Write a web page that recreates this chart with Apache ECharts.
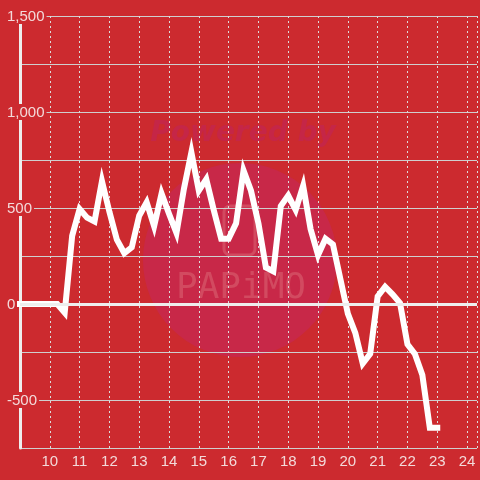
<!DOCTYPE html>
<html>
<head>
<meta charset="utf-8">
<script src="https://cdn.jsdelivr.net/npm/echarts@6/dist/echarts.min.js"></script>
<style>html,body{margin:0;padding:0;background:#cc2a2f;}#c{width:480px;height:480px;}</style>
</head>
<body>
<div id="c"></div>
<script>
var times = [9, 9.25, 9.5, 9.75, 10, 10.25, 10.5, 10.75, 11, 11.25, 11.5, 11.75,
  12, 12.25, 12.5, 12.75, 13, 13.25, 13.5, 13.75, 14, 14.25, 14.5, 14.75,
  15, 15.25, 15.5, 15.75, 16, 16.25, 16.5, 16.75, 17, 17.25, 17.5, 17.75,
  18, 18.25, 18.5, 18.75, 19, 19.25, 19.5, 19.75, 20, 20.25, 20.5, 20.75,
  21, 21.25, 21.5, 21.75, 22, 22.25, 22.5, 22.75, 23];
var values = [0, 0, 0, 0, 0, 0, -45, 355, 495, 450, 430, 640,
  480, 335, 265, 295, 460, 530, 405, 575, 470, 370, 600, 790,
  590, 650, 490, 340, 340, 420, 695, 590, 420, 190, 170, 510,
  565, 490, 615, 390, 255, 340, 310, 130, -50, -150, -310, -260,
  40, 90, 50, 5, -210, -260, -370, -645, -645];
var xTickLabels = [10, 11, 12, 13, 14, 15, 16, 17, 18, 19, 20, 21, 22, 23, 24];
var yTickLabels = [1500, 1000, 500, 0, -500];

var chart = echarts.init(document.getElementById('c'), null, {renderer: 'canvas'});
var fontFam = 'Liberation Sans, Arial, sans-serif';
function fmtNum(v) { return String(v).replace(/\B(?=(\d{3})+(?!\d))/g, ','); }

chart.setOption({
  backgroundColor: '#cc2a2f',
  animation: false,
  graphic: [
    {type: 'circle', z: -10, silent: true, shape: {cx: 240, cy: 260, r: 97},
     style: {fill: '#c82848'}},
    {type: 'text', z: -9, silent: true, x: 243, y: 134,
     style: {text: 'Powered by', fill: '#c52647', font: 'italic bold 28px "DejaVu Sans"',
             align: 'center', verticalAlign: 'middle'}},
    {type: 'rect', z: -9, silent: true, shape: {x: 224, y: 206, width: 31, height: 49, r: 6},
     style: {fill: 'none', stroke: '#d24a60', lineWidth: 3}},
    {type: 'text', z: -9, silent: true, x: 241, y: 289,
     style: {text: 'PAPiMO', fill: '#d24a60', font: '36px "DejaVu Sans Mono"',
             align: 'center', verticalAlign: 'middle'}}
  ],
  grid: {left: 20, right: 0, top: 16, bottom: 32, containLabel: false},
  xAxis: {
    type: 'value', min: 9, max: 24.3334, interval: 1,
    axisLine: {show: false}, axisTick: {show: false},
    splitLine: {show: true, lineStyle: {color: '#dcdcdc', type: [2, 3], width: 1}},
    axisLabel: {
      color: '#f3dada', fontSize: 15, fontFamily: fontFam, margin: 6,
      formatter: function (v) { return xTickLabels.indexOf(v) >= 0 ? String(v) : ''; }
    }
  },
  yAxis: {
    type: 'value', min: -750, max: 1500, interval: 250,
    axisLine: {show: true, lineStyle: {color: '#eeeeee', width: 3}},
    axisTick: {show: false},
    splitLine: {show: true, lineStyle: {color: '#cfcfcf', width: 1}},
    axisLabel: {
      align: 'left', margin: 13, fontSize: 15, fontFamily: fontFam, color: '#f3dada',
      formatter: function (v) {
        return yTickLabels.indexOf(v) >= 0 ? '{a|' + fmtNum(v) + '}' : '';
      },
      rich: {a: {color: '#f3dada', fontSize: 15, fontFamily: fontFam,
                 backgroundColor: '#cc2a2f', padding: [1, 2, 0, 0], lineHeight: 16}}
    }
  },
  series: [{
    type: 'line',
    data: times.map(function (t, i) { return [t, values[i]]; }),
    showSymbol: false, symbol: 'none',
    lineStyle: {color: '#ffffff', width: 6, cap: 'square', join: 'miter'},
    markLine: {
      silent: true, symbol: 'none', label: {show: false},
      lineStyle: {color: '#eeeeee', width: 3, type: 'solid'},
      data: [{yAxis: 0}]
    }
  }]
});
</script>
</body>
</html>
